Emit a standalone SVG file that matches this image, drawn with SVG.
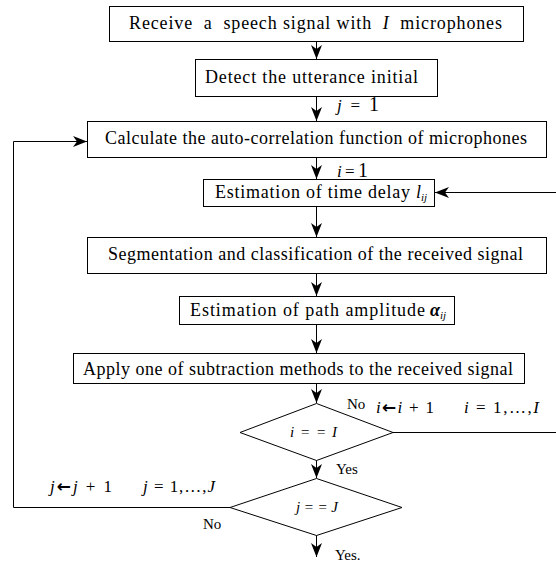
<svg xmlns="http://www.w3.org/2000/svg" width="556" height="562" viewBox="0 0 556 562">
<style>
.box{fill:#fff;stroke:#000;stroke-width:1}
.t{font-family:"Liberation Serif","Times New Roman",serif;font-size:18px;fill:#000}
.m{font-family:"Liberation Serif","Times New Roman",serif;font-size:17px;fill:#000}
.s{font-family:"Liberation Serif","Times New Roman",serif;font-size:15px;fill:#000}
.it{font-style:italic}
.ar{font-family:"DejaVu Sans",sans-serif;font-weight:bold;font-style:normal}
.c{fill:none;stroke:#000;stroke-width:1}
</style>
<defs>
<marker id="ah" viewBox="-15 -7 16 14" refX="0" refY="0" markerWidth="16" markerHeight="14" markerUnits="userSpaceOnUse" orient="auto">
<path d="M-14,-5.5 L0,0 L-14,5.5 L-10,0 Z" fill="#000"/>
</marker>
</defs>
<rect width="556" height="562" fill="#fff"/>
<g id="connectors">
<line class="c" x1="316.5" y1="41" x2="316.5" y2="59" marker-end="url(#ah)"/>
<line class="c" x1="316.5" y1="96" x2="316.5" y2="121" marker-end="url(#ah)"/>
<line class="c" x1="316.5" y1="157" x2="316.5" y2="179" marker-end="url(#ah)"/>
<line class="c" x1="316.5" y1="206" x2="316.5" y2="237" marker-end="url(#ah)"/>
<line class="c" x1="316.5" y1="273" x2="316.5" y2="296" marker-end="url(#ah)"/>
<line class="c" x1="316.5" y1="324" x2="316.5" y2="353" marker-end="url(#ah)"/>
<line class="c" x1="316.5" y1="383" x2="316.5" y2="403" marker-end="url(#ah)"/>
<line class="c" x1="316.5" y1="460" x2="316.5" y2="478" marker-end="url(#ah)"/>
<line class="c" x1="316.5" y1="535" x2="316.5" y2="557" marker-end="url(#ah)"/>
<path class="c" d="M393,432.5 H558.5 V192.5 H435" marker-end="url(#ah)"/>
<path class="c" d="M230,507.5 H13.5 V141.5 H87" marker-end="url(#ah)"/>
<text class="m" x="337" y="111" textLength="42" lengthAdjust="spacing"><tspan class="it">j</tspan> = <tspan font-size="20">1</tspan></text>
<text class="m" x="337" y="177" textLength="31" lengthAdjust="spacing"><tspan class="it">i</tspan> = <tspan font-size="20">1</tspan></text>
<text class="s" x="347" y="409">No</text>
<text class="m" x="376" y="413" textLength="58" lengthAdjust="spacing"><tspan class="it">i</tspan><tspan class="ar">←</tspan><tspan class="it">i</tspan> + 1</text>
<text class="m" x="464" y="413" textLength="75" lengthAdjust="spacing"><tspan class="it">i</tspan> = 1,…,<tspan class="it">I</tspan></text>
<text class="s" x="336" y="474">Yes</text>
<text class="m" x="50" y="492" textLength="62" lengthAdjust="spacing"><tspan class="it">j</tspan><tspan class="ar">←</tspan><tspan class="it">j</tspan> + 1</text>
<text class="m" x="143" y="492" textLength="72" lengthAdjust="spacing"><tspan class="it">j</tspan> = 1,…,<tspan class="it">J</tspan></text>
<text class="s" x="203" y="529">No</text>
<text class="s" x="335" y="560">Yes.</text>
</g>
<g id="n1">
<rect class="box" x="109.5" y="6.5" width="414" height="35"/>
<text class="t" x="129" y="29" textLength="373" lengthAdjust="spacing">Receive&#160; a&#160; speech signal with&#160; <tspan class="it">I</tspan>&#160; microphones</text>
</g>
<g id="n2">
<rect class="box" x="195.5" y="59.5" width="242" height="37"/>
<text class="t" x="205" y="83" textLength="213" lengthAdjust="spacing">Detect the utterance initial</text>
</g>
<g id="n3">
<rect class="box" x="87.5" y="121.5" width="459" height="36"/>
<text class="t" x="105" y="144" textLength="422" lengthAdjust="spacing">Calculate the auto-correlation function of microphones</text>
</g>
<g id="n4">
<rect class="box" x="203.5" y="179.5" width="231" height="27"/>
<text class="t" x="215" y="198" textLength="195" lengthAdjust="spacing">Estimation of time delay</text>
<text class="t it" x="416" y="198">l<tspan font-size="11" dy="3">ij</tspan></text>
</g>
<g id="n5">
<rect class="box" x="87.5" y="237.5" width="459" height="36"/>
<text class="t" x="108" y="260" textLength="415" lengthAdjust="spacing">Segmentation and classification of the received signal</text>
</g>
<g id="n6">
<rect class="box" x="179.5" y="296.5" width="275" height="28"/>
<text class="t" x="190" y="316" textLength="235" lengthAdjust="spacing">Estimation of path amplitude</text>
<text class="t it" x="430" y="316" font-weight="bold" font-size="20">α<tspan font-size="11" font-weight="normal" dy="3">ij</tspan></text>
</g>
<g id="n7">
<rect class="box" x="73.5" y="353.5" width="451" height="30"/>
<text class="t" x="83" y="375" textLength="430" lengthAdjust="spacing">Apply one of subtraction methods to the received signal</text>
</g>
<g id="n8">
<polygon class="box" points="316.5,403.5 393,432.5 316.5,460.5 240,432.5"/>
<text class="s it" x="290" y="437" textLength="47" lengthAdjust="spacing">i = = I</text>
</g>
<g id="n9">
<polygon class="box" points="316.5,478.5 402,507.5 316.5,535.5 230,507.5"/>
<text class="s it" x="296" y="512" textLength="42" lengthAdjust="spacing">j = = J</text>
</g>
</svg>
